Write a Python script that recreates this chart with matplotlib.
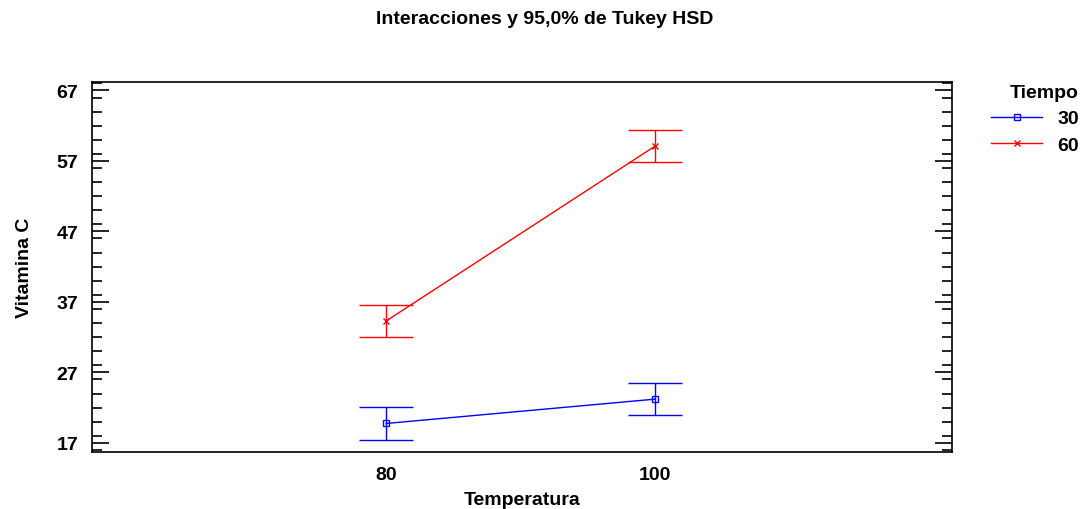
import matplotlib
matplotlib.use('Agg')
import matplotlib.pyplot as plt
from matplotlib.ticker import MultipleLocator, FixedLocator

plt.rcParams['font.family'] = ['Liberation Sans', 'DejaVu Sans']
plt.rcParams['font.weight'] = 'bold'

temperatures = [80, 100]
tiempo_labels = ['30', '60']
means_30 = [19.75, 23.2]
means_60 = [34.3, 59.1]
half_width = [2.3, 2.3]
y_ticks = [17, 27, 37, 47, 57, 67]

fig = plt.figure(figsize=(10.89, 5.10), dpi=100)
ax = fig.add_axes([92 / 1089, 57 / 510, 860 / 1089, 370 / 510])

series = [(means_30, 'blue', 's', tiempo_labels[0]),
          (means_60, 'red', 'x', tiempo_labels[1])]
for means, color, marker, label in series:
    ax.errorbar(temperatures, means, yerr=half_width, color=color, lw=1,
                elinewidth=1, capsize=19.5, capthick=1, marker=marker,
                markersize=5, mfc='none', mec=color,
                mew=1, label=label)

ax.set_xlim(58.1, 122.1)
ax.set_ylim(15.7, 68.2)
ax.xaxis.set_major_locator(FixedLocator(temperatures))
ax.set_xticklabels([str(t) for t in temperatures])
ax.tick_params(axis='x', length=0, pad=10, labelsize=14)
ax.yaxis.set_major_locator(FixedLocator(y_ticks))
ax.yaxis.set_minor_locator(MultipleLocator(2))
ax.tick_params(axis='y', which='major', direction='in', length=12, width=1.2,
               right=True, labelsize=14, pad=10)
ax.tick_params(axis='y', which='minor', direction='in', length=7, width=1.2,
               right=True)
for s in ax.spines.values():
    s.set_linewidth(1.2)

ax.set_xlabel('Temperatura', fontsize=14, fontweight='bold', labelpad=6)
ax.set_ylabel('Vitamina C', fontsize=14, fontweight='bold', labelpad=17)
fig.suptitle('Interacciones y 95,0% de Tukey HSD', fontsize=14,
             fontweight='bold', y=0.978)

handles, labels = ax.get_legend_handles_labels()
handles = [h[0] for h in handles]
leg = fig.legend(handles, labels, title='Tiempo', loc='upper right',
                 bbox_to_anchor=(1079 / 1089, 1 - 85 / 510),
                 bbox_transform=fig.transFigure, frameon=False, fontsize=14,
                 title_fontsize=14, handlelength=2.6, handletextpad=0.8,
                 labelspacing=0.45, borderaxespad=0, borderpad=0)
leg.get_title().set_fontweight('bold')
leg._legend_box.align = 'right'

fig.savefig('out.png', dpi=100)
